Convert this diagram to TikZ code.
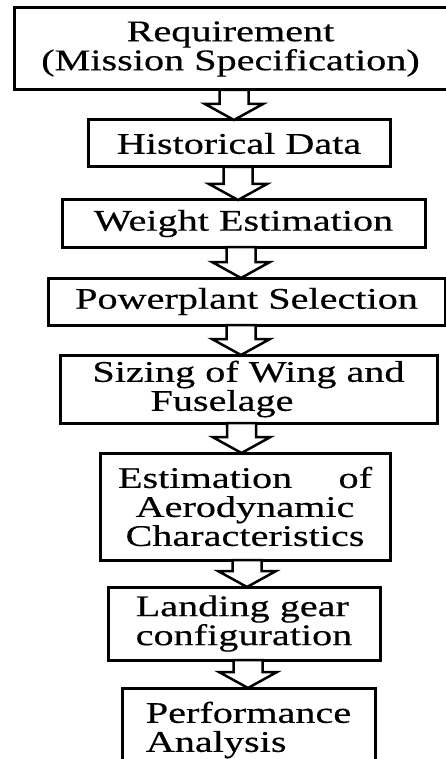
\documentclass[tikz,border=0pt]{standalone}
\usepackage{fontspec}
\setmainfont{Liberation Serif}[FakeStretch=1.34, FakeBold=0.4]
\usetikzlibrary{calc}
\tikzset{
  box/.style={draw=black, line width=3pt, fill=white, inner sep=0pt, outer sep=0pt,
    align=center, font=\fontsize{30}{29}\selectfont},
  blk/.style={draw=black, line width=2.5pt, fill=white, line join=miter},
}
\newcommand{\blkarrow}[3]{%
  \draw[blk] let \p1=(#1.south), \p2=(#2.north) in
    ({#3pt-14.5pt},\y1) -- ({#3pt-14.5pt},{\y2+16pt}) -- ({#3pt-29pt},{\y2+16pt})
    -- (#3pt,\y2) -- ({#3pt+29pt},{\y2+16pt}) -- ({#3pt+14.5pt},{\y2+16pt})
    -- ({#3pt+14.5pt},\y1) -- cycle;}
\begin{document}
\begin{tikzpicture}[x=1pt,y=1pt]
\useasboundingbox (0,0) rectangle (446,-759);
\clip (0,0) rectangle (446,-759);
\fill[white] (0,0) rectangle (446,-759);
\node[box, minimum width=433pt, minimum height=82pt] (b1) at (230.5,-49)
  {Requirement\\(Mission Specification)};
\node[box, minimum width=302pt, minimum height=47pt] (b2) at (239,-143.5)
  {Historical Data};
\node[box, minimum width=363pt, minimum height=47pt] (b3) at (243.5,-223.5)
  {Weight Estimation};
\node[box, minimum width=397pt, minimum height=47pt] (b4) at (246.5,-301.5)
  {Powerplant Selection};
\node[box, minimum width=377pt, minimum height=68pt] (b5) at (248.5,-389)
  {Sizing of Wing and\\Fuselage\hspace*{53pt}};
\node[box, minimum width=290pt, minimum height=107pt] (b6) at (245,-506.5)
  {\makebox[254pt]{Estimation\hfill of}\\Aerodynamic\\Characteristics};
\node[box, align=left, minimum width=272pt, minimum height=73pt] (b7) at (244,-623.5)
  {Landing gear\\configuration};
\node[box, align=left, minimum width=253pt, minimum height=84pt] (b8) at (248.5,-730)
  {Performance\\Analysis};
\blkarrow{b1}{b2}{234}
\blkarrow{b2}{b3}{238}
\blkarrow{b3}{b4}{241}
\blkarrow{b4}{b5}{241}
\blkarrow{b5}{b6}{241.5}
\blkarrow{b6}{b7}{247}
\blkarrow{b7}{b8}{248}
\end{tikzpicture}
\end{document}
